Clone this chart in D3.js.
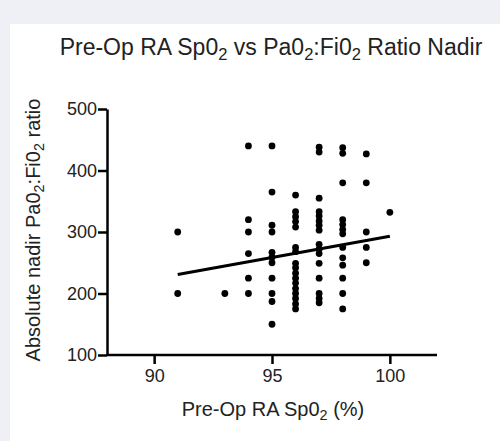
<!DOCTYPE html>
<html>
<head>
<meta charset="utf-8">
<script src="https://cdn.jsdelivr.net/npm/d3@7"></script>
<style>
  body { margin: 0; background: #eef0f6; }
  svg { display: block; font-family: "Liberation Sans", Arial, sans-serif; }
</style>
</head>
<body>
<div id="chart"></div>
<script>
// Pre-Op RA SpO2 per patient (x) and nadir PaO2:FiO2 ratio (y)
const spo2 = [
  91, 91,
  93,
  94, 94, 94, 94, 94, 94,
  95, 95, 95, 95, 95, 95, 95, 95, 95, 95, 95,
  96, 96, 96, 96, 96, 96, 96, 96, 96, 96, 96, 96, 96, 96, 96, 96, 96,
  97, 97, 97, 97, 97, 97, 97, 97, 97, 97, 97, 97, 97, 97, 97, 97,
  98, 98, 98, 98, 98, 98, 98, 98, 98, 98, 98, 98, 98,
  99, 99, 99, 99, 99,
  100
];
const ratio = [
  300, 200,
  200,
  440, 320, 300, 265, 225, 200,
  440, 365, 311, 300, 267, 259, 250, 225, 200, 187, 150,
  360, 333, 325, 317, 308, 275, 268, 249, 242, 233, 225, 217, 208, 200, 192, 183, 175,
  438, 430, 355, 333, 326, 318, 311, 303, 280, 272, 265, 249, 225, 200, 192, 185,
  437, 428, 380, 320, 312, 304, 297, 275, 258, 246, 225, 200, 175,
  427, 380, 300, 275, 250,
  332
];
// fitted regression line, read at its two ends
const fitX = [91, 100];
const fitY = [231, 293];

const xTicks = [90, 95, 100];
const yTicks = [100, 200, 300, 400, 500];

const width = 500, height = 441;
const plot = {left: 107, right: 437, top: 109, bottom: 355};

const svg = d3.select("#chart").append("svg")
  .attr("width", width)
  .attr("height", height);

// white panel
svg.append("rect")
  .attr("x", 10).attr("y", 24)
  .attr("width", width - 10).attr("height", height - 24)
  .attr("fill", "#fff");

const x = d3.scaleLinear().domain([88, 102]).range([plot.left, plot.right]);
const y = d3.scaleLinear().domain([100, 500]).range([plot.bottom, plot.top]);

// text with subscript "2" parts
function subText(sel, parts) {
  parts.forEach(p => {
    if (p.sub) {
      sel.append("tspan").attr("font-size", "0.72em").attr("dy", "0.3em").text(p.t);
    } else {
      sel.append("tspan").attr("dy", p.after ? "-0.22em" : null).text(p.t);
    }
  });
}

// axes
const xAxis = svg.append("g")
  .attr("transform", "translate(0," + plot.bottom + ")")
  .call(d3.axisBottom(x).tickValues(xTicks).tickSize(9).tickSizeOuter(0).tickPadding(5));
const yAxis = svg.append("g")
  .attr("transform", "translate(" + plot.left + ",0)")
  .call(d3.axisLeft(y).tickValues(yTicks).tickSize(9).tickSizeOuter(0).tickPadding(1));

[xAxis, yAxis].forEach(a => {
  a.select(".domain").attr("stroke", "#000").attr("stroke-width", 2.5);
  a.selectAll(".tick line").attr("stroke", "#000").attr("stroke-width", 2.5);
  a.selectAll(".tick text").attr("fill", "#222").attr("font-size", 18)
    .attr("font-family", "'Liberation Sans', Arial, sans-serif");
});
// stretch x axis line to meet the y axis
xAxis.select(".domain").attr("d", "M" + plot.left + ",0H" + plot.right);

// points
const pts = spo2.map((v, i) => ({x: v, y: ratio[i]}));
svg.append("g").selectAll("circle")
  .data(pts)
  .enter()
  .append("circle")
  .attr("cx", d => x(d.x))
  .attr("cy", d => y(d.y))
  .attr("r", 3.4)
  .attr("fill", "#000");

// regression line
svg.append("line")
  .attr("x1", x(fitX[0])).attr("y1", y(fitY[0]))
  .attr("x2", x(fitX[1])).attr("y2", y(fitY[1]))
  .attr("stroke", "#000")
  .attr("stroke-width", 3);

// title
const title = svg.append("text")
  .attr("x", 271).attr("y", 55)
  .attr("text-anchor", "middle")
  .attr("font-size", 23)
  .attr("fill", "#222");
subText(title, [
  {t: "Pre-Op RA Sp0"}, {t: "2", sub: true}, {t: " vs Pa0", after: true},
  {t: "2", sub: true}, {t: ":Fi0", after: true}, {t: "2", sub: true},
  {t: " Ratio Nadir", after: true}
]);

// x label
const xl = svg.append("text")
  .attr("x", 273).attr("y", 416)
  .attr("text-anchor", "middle")
  .attr("font-size", 20)
  .attr("fill", "#222");
subText(xl, [{t: "Pre-Op RA Sp0"}, {t: "2", sub: true}, {t: " (%)", after: true}]);

// y label
const yl = svg.append("text")
  .attr("transform", "translate(40,230) rotate(-90)")
  .attr("text-anchor", "middle")
  .attr("font-size", 20)
  .attr("fill", "#222");
subText(yl, [
  {t: "Absolute nadir Pa0"}, {t: "2", sub: true}, {t: ":Fi0", after: true},
  {t: "2", sub: true}, {t: " ratio", after: true}
]);
</script>
</body>
</html>
